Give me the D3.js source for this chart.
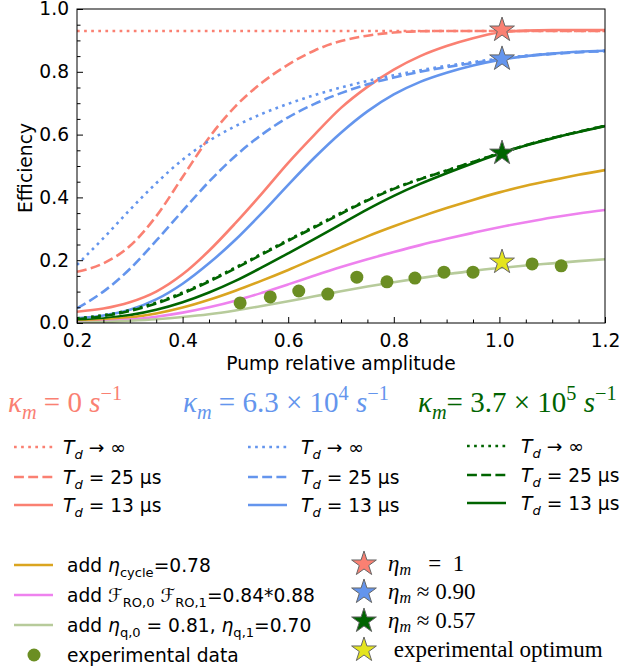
<!DOCTYPE html>
<html><head><meta charset="utf-8">
<script src="https://cdn.jsdelivr.net/npm/d3@7"></script>
<style>body{margin:0;background:#fff} svg{display:block} text{white-space:pre}</style>
</head><body><svg id="c" width="621" height="670"></svg>
<script>
// ---------- data ----------
const xs = [0.2,0.25,0.3,0.35,0.4,0.45,0.5,0.55,0.6,0.65,0.7,0.75,0.8,0.85,0.9,0.95,1.0,1.05,1.1,1.15,1.2];
const redDotted  = [0.93,0.93,0.93,0.93,0.93,0.93,0.93,0.93,0.93,0.93,0.93,0.93,0.93,0.93,0.93,0.93,0.93,0.93,0.93,0.93,0.93];
const redDashed  = [0.163,0.19,0.245,0.34,0.465,0.59,0.69,0.765,0.823,0.868,0.898,0.915,0.925,0.929,0.93,0.93,0.93,0.93,0.93,0.93,0.93];
const redSolid   = [0.036,0.046,0.066,0.1,0.155,0.23,0.318,0.412,0.51,0.6,0.685,0.752,0.807,0.85,0.882,0.907,0.925,0.931,0.933,0.933,0.933];
const blueDotted = [0.185,0.27,0.36,0.445,0.52,0.58,0.627,0.666,0.698,0.726,0.75,0.771,0.789,0.805,0.819,0.831,0.842,0.851,0.858,0.863,0.867];
const blueDashed = [0.047,0.1,0.172,0.262,0.357,0.45,0.532,0.6,0.655,0.698,0.732,0.76,0.782,0.8,0.815,0.828,0.84,0.85,0.857,0.862,0.866];
const blueSolid  = [0.015,0.024,0.042,0.075,0.125,0.19,0.265,0.35,0.44,0.527,0.606,0.674,0.728,0.768,0.797,0.82,0.838,0.85,0.858,0.864,0.867];
const greenDotted= [0.015,0.025,0.041,0.065,0.097,0.135,0.177,0.221,0.265,0.308,0.351,0.392,0.429,0.459,0.486,0.513,0.541,0.566,0.589,0.609,0.628];
const greenDashed= [0.012,0.022,0.038,0.062,0.094,0.132,0.174,0.218,0.262,0.305,0.348,0.39,0.427,0.458,0.485,0.513,0.54,0.566,0.589,0.609,0.628];
const greenSolid = [0.008,0.014,0.025,0.042,0.066,0.097,0.134,0.177,0.222,0.268,0.315,0.362,0.405,0.443,0.477,0.509,0.539,0.565,0.588,0.608,0.627];
const addCycle   = [0.004,0.009,0.017,0.03,0.049,0.074,0.103,0.135,0.169,0.205,0.241,0.276,0.308,0.338,0.366,0.392,0.416,0.437,0.455,0.472,0.487];
const addReadout = [0.002,0.005,0.011,0.02,0.033,0.05,0.071,0.096,0.123,0.151,0.178,0.203,0.226,0.248,0.268,0.287,0.305,0.321,0.336,0.349,0.36];
const addQubit   = [0.001,0.003,0.007,0.012,0.019,0.028,0.04,0.054,0.069,0.085,0.101,0.116,0.13,0.143,0.155,0.166,0.175,0.183,0.19,0.197,0.203];
const expX = [0.509,0.566,0.62,0.675,0.73,0.787,0.84,0.895,0.95,1.062,1.117];
const expY = [0.064,0.083,0.102,0.092,0.146,0.131,0.143,0.162,0.162,0.188,0.182];
const starX = [1.005,1.005,1.005,1.005];
const starY = [0.933,0.841,0.541,0.194];
const xTicks = [0.2,0.4,0.6,0.8,1.0,1.2];
const yTicks = [0.0,0.2,0.4,0.6,0.8,1.0];

// ---------- styles ----------
const RED='#fa8072', BLUE='#6495ed', GREEN='#006400', GOLD='#daa520', VIOLET='#ee82ee', LGREEN='#b7cb9b', OLIVE='#6b8e23';
const LW=2.6, DASH='9.9,4.3', DOT='2.7,4.4';
const SANS='DejaVu Sans', SERIF='Liberation Serif', FS=18.67;

const svg = d3.select('#c');
const L=77, R=605, T=9, B=323;
const x = d3.scaleLinear().domain([0.2,1.2]).range([L,R]);
const y = d3.scaleLinear().domain([0,1]).range([B,T]);

svg.append('defs').append('clipPath').attr('id','clip').append('rect')
  .attr('x',L).attr('y',T).attr('width',R-L).attr('height',B-T);

const plot = svg.append('g').attr('clip-path','url(#clip)');
const line = d3.line().x((d,i)=>x(xs[i])).y(d=>y(d)).curve(d3.curveMonotoneX);

const series = [
  [redDotted,RED,DOT],[redDashed,RED,DASH],[redSolid,RED,null],
  [blueDotted,BLUE,DOT],[blueDashed,BLUE,DASH],[blueSolid,BLUE,null],
  [greenDotted,GREEN,DOT],[greenDashed,GREEN,DASH],[greenSolid,GREEN,null],
  [addCycle,GOLD,null],[addReadout,VIOLET,null],[addQubit,LGREEN,null]
];
series.forEach(([v,c,d])=>{
  const p = plot.append('path').attr('d',line(v)).attr('fill','none')
    .attr('stroke',c).attr('stroke-width',LW);
  if(d) p.attr('stroke-dasharray',d);
});

plot.selectAll('circle.exp').data(expX).join('circle').attr('class','exp')
  .attr('cx',d=>x(d)).attr('cy',(d,i)=>y(expY[i])).attr('r',6.5).attr('fill',OLIVE);

const starFill=[RED,BLUE,GREEN,'#e4e41e'];
const star = d3.symbol().type(d3.symbolStar).size(190);
svg.selectAll('path.star').data(starX).join('path').attr('class','star')
  .attr('d',star).attr('transform',(d,i)=>`translate(${x(d)},${y(starY[i])})`)
  .attr('fill',(d,i)=>starFill[i]).attr('stroke','#666').attr('stroke-width',1);

// ---------- axes ----------
const fmt = d3.format('.1f');
function axisStyle(g){ g.select('.domain').remove(); g.selectAll('text').attr('font-family',SANS).attr('font-size',FS).attr('fill','#000'); g.selectAll('line').attr('stroke','#000'); }
const isMinor = v=>Math.abs(v*5-Math.round(v*5))>0.01;
svg.append('g').attr('transform',`translate(0,${B})`)
  .call(d3.axisBottom(x).tickValues(xTicks).tickFormat(fmt).tickSize(-6).tickPadding(10.5)).call(axisStyle);
svg.append('g').attr('transform',`translate(0,${B})`)
  .call(d3.axisBottom(x).tickValues(d3.range(0.25,1.2,0.05).filter(isMinor)).tickFormat('').tickSize(-3.5)).call(axisStyle);
svg.append('g').attr('transform',`translate(${L},0)`)
  .call(d3.axisLeft(y).tickValues(yTicks).tickFormat(fmt).tickSize(-6).tickPadding(8)).call(axisStyle);
svg.append('g').attr('transform',`translate(${L},0)`)
  .call(d3.axisLeft(y).tickValues(d3.range(0.05,1.0,0.05).filter(isMinor)).tickFormat('').tickSize(-3.5)).call(axisStyle);
svg.append('rect').attr('x',L).attr('y',T).attr('width',R-L).attr('height',B-T)
  .attr('fill','none').attr('stroke','#000').attr('stroke-width',1);

svg.append('text').attr('x',(L+R)/2).attr('y',370).attr('text-anchor','middle')
  .attr('font-family',SANS).attr('font-size',FS).text('Pump relative amplitude');
svg.append('text').attr('transform','translate(32,168) rotate(-90)').attr('text-anchor','middle')
  .attr('font-family',SANS).attr('font-size',FS).text('Efficiency');

// ---------- rich text helper ----------
function rich(px, py, parts, o){
  const t = svg.append('text').attr('x',px).attr('y',py)
    .attr('font-family',o.family).attr('font-size',o.size).attr('fill',o.fill||'#000');
  let shift=0;
  const subK = o.subK || 0.25;
  parts.forEach(p=>{
    const txt=p[0], st=p[1]||{};
    const target = st.sub ? o.size*subK : st.sup ? -o.size*0.42 : 0;
    const ts = t.append('tspan').text(txt).attr('dy', target-shift);
    shift=target;
    if(st.i) ts.attr('font-style','italic');
    if(st.sub||st.sup) ts.attr('font-size', o.size*0.7);
    if(st.f) ts.attr('font-family',st.f);
  });
  return t;
}

// ---------- kappa headers ----------
const kap = [
  [8,RED,[['κ',{i:1}],['m',{i:1,sub:1}],[' = 0 '],['s',{i:1}],['−1',{sup:1}]]],
  [183,BLUE,[['κ',{i:1}],['m',{i:1,sub:1}],[' = 6.3 × 10'],['4',{sup:1}],[' '],['s',{i:1}],['−1',{sup:1}]]],
  [418,GREEN,[['κ',{i:1}],['m',{i:1,sub:1}],['= 3.7 × 10'],['5',{sup:1}],[' '],['s',{i:1}],['−1',{sup:1}]]]
];
kap.forEach(([kx,c,parts])=>rich(kx,412,parts,{family:SERIF,size:29,fill:c}));

// ---------- Td legends ----------
const tdCols = [[14,63,RED,[447,477,505]],[248,301,BLUE,[447,477,505]],[467,521,GREEN,[446,475,503]]];
const tdLabels = [
  [['T',{i:1}],['d',{i:1,sub:1}],[' → ∞']],
  [['T',{i:1}],['d',{i:1,sub:1}],[' = 25 μs']],
  [['T',{i:1}],['d',{i:1,sub:1}],[' = 13 μs']]
];
const tdDash=[DOT,DASH,null];
tdCols.forEach(([lx,tx,c,rows])=>{
  rows.forEach((ry,k)=>{
    const l=svg.append('line').attr('x1',lx).attr('x2',lx+39).attr('y1',ry).attr('y2',ry)
      .attr('stroke',c).attr('stroke-width',LW);
    if(tdDash[k]) l.attr('stroke-dasharray',tdDash[k]);
    rich(tx,ry+7,tdLabels[k],{family:SANS,size:FS});
  });
});

// ---------- bottom-left legend ----------
const blRows=[565,595,625,655];
[[GOLD,[['add '],['η',{i:1}],['cycle',{sub:1}],['=0.78']]],
 [VIOLET,[['add '],['ℱ',{i:1}],['RO,0',{sub:1}],[' '],['ℱ',{i:1}],['RO,1',{sub:1}],['=0.84*0.88']]],
 [LGREEN,[['add '],['η',{i:1}],['q,0',{sub:1}],[' = 0.81, '],['η',{i:1}],['q,1',{sub:1}],['=0.70']]]
].forEach(([c,parts],k)=>{
  svg.append('line').attr('x1',14).attr('x2',53).attr('y1',blRows[k]).attr('y2',blRows[k])
    .attr('stroke',c).attr('stroke-width',LW);
  rich(67,blRows[k]+7,parts,{family:SANS,size:FS});
});
svg.append('circle').attr('cx',34).attr('cy',blRows[3]).attr('r',6.5).attr('fill',OLIVE);
rich(67,blRows[3]+7,[['experimental data']],{family:SANS,size:FS});

// ---------- star legend ----------
const srRows=[564,592,621,650];
const starLabels=[
  [['η',{i:1}],['m',{i:1,sub:1}],['   =  1']],
  [['η',{i:1}],['m',{i:1,sub:1}],[' ≈ 0.90']],
  [['η',{i:1}],['m',{i:1,sub:1}],[' ≈ 0.57']],
  [[' experimental optimum']]
];
srRows.forEach((ry,k)=>{
  svg.append('path').attr('d',star).attr('transform',`translate(364,${ry})`)
    .attr('fill',starFill[k]).attr('stroke','#666').attr('stroke-width',1);
  rich(388,ry+7,starLabels[k],{family:SERIF,size:23,subK:0.18});
});
</script></body></html>
